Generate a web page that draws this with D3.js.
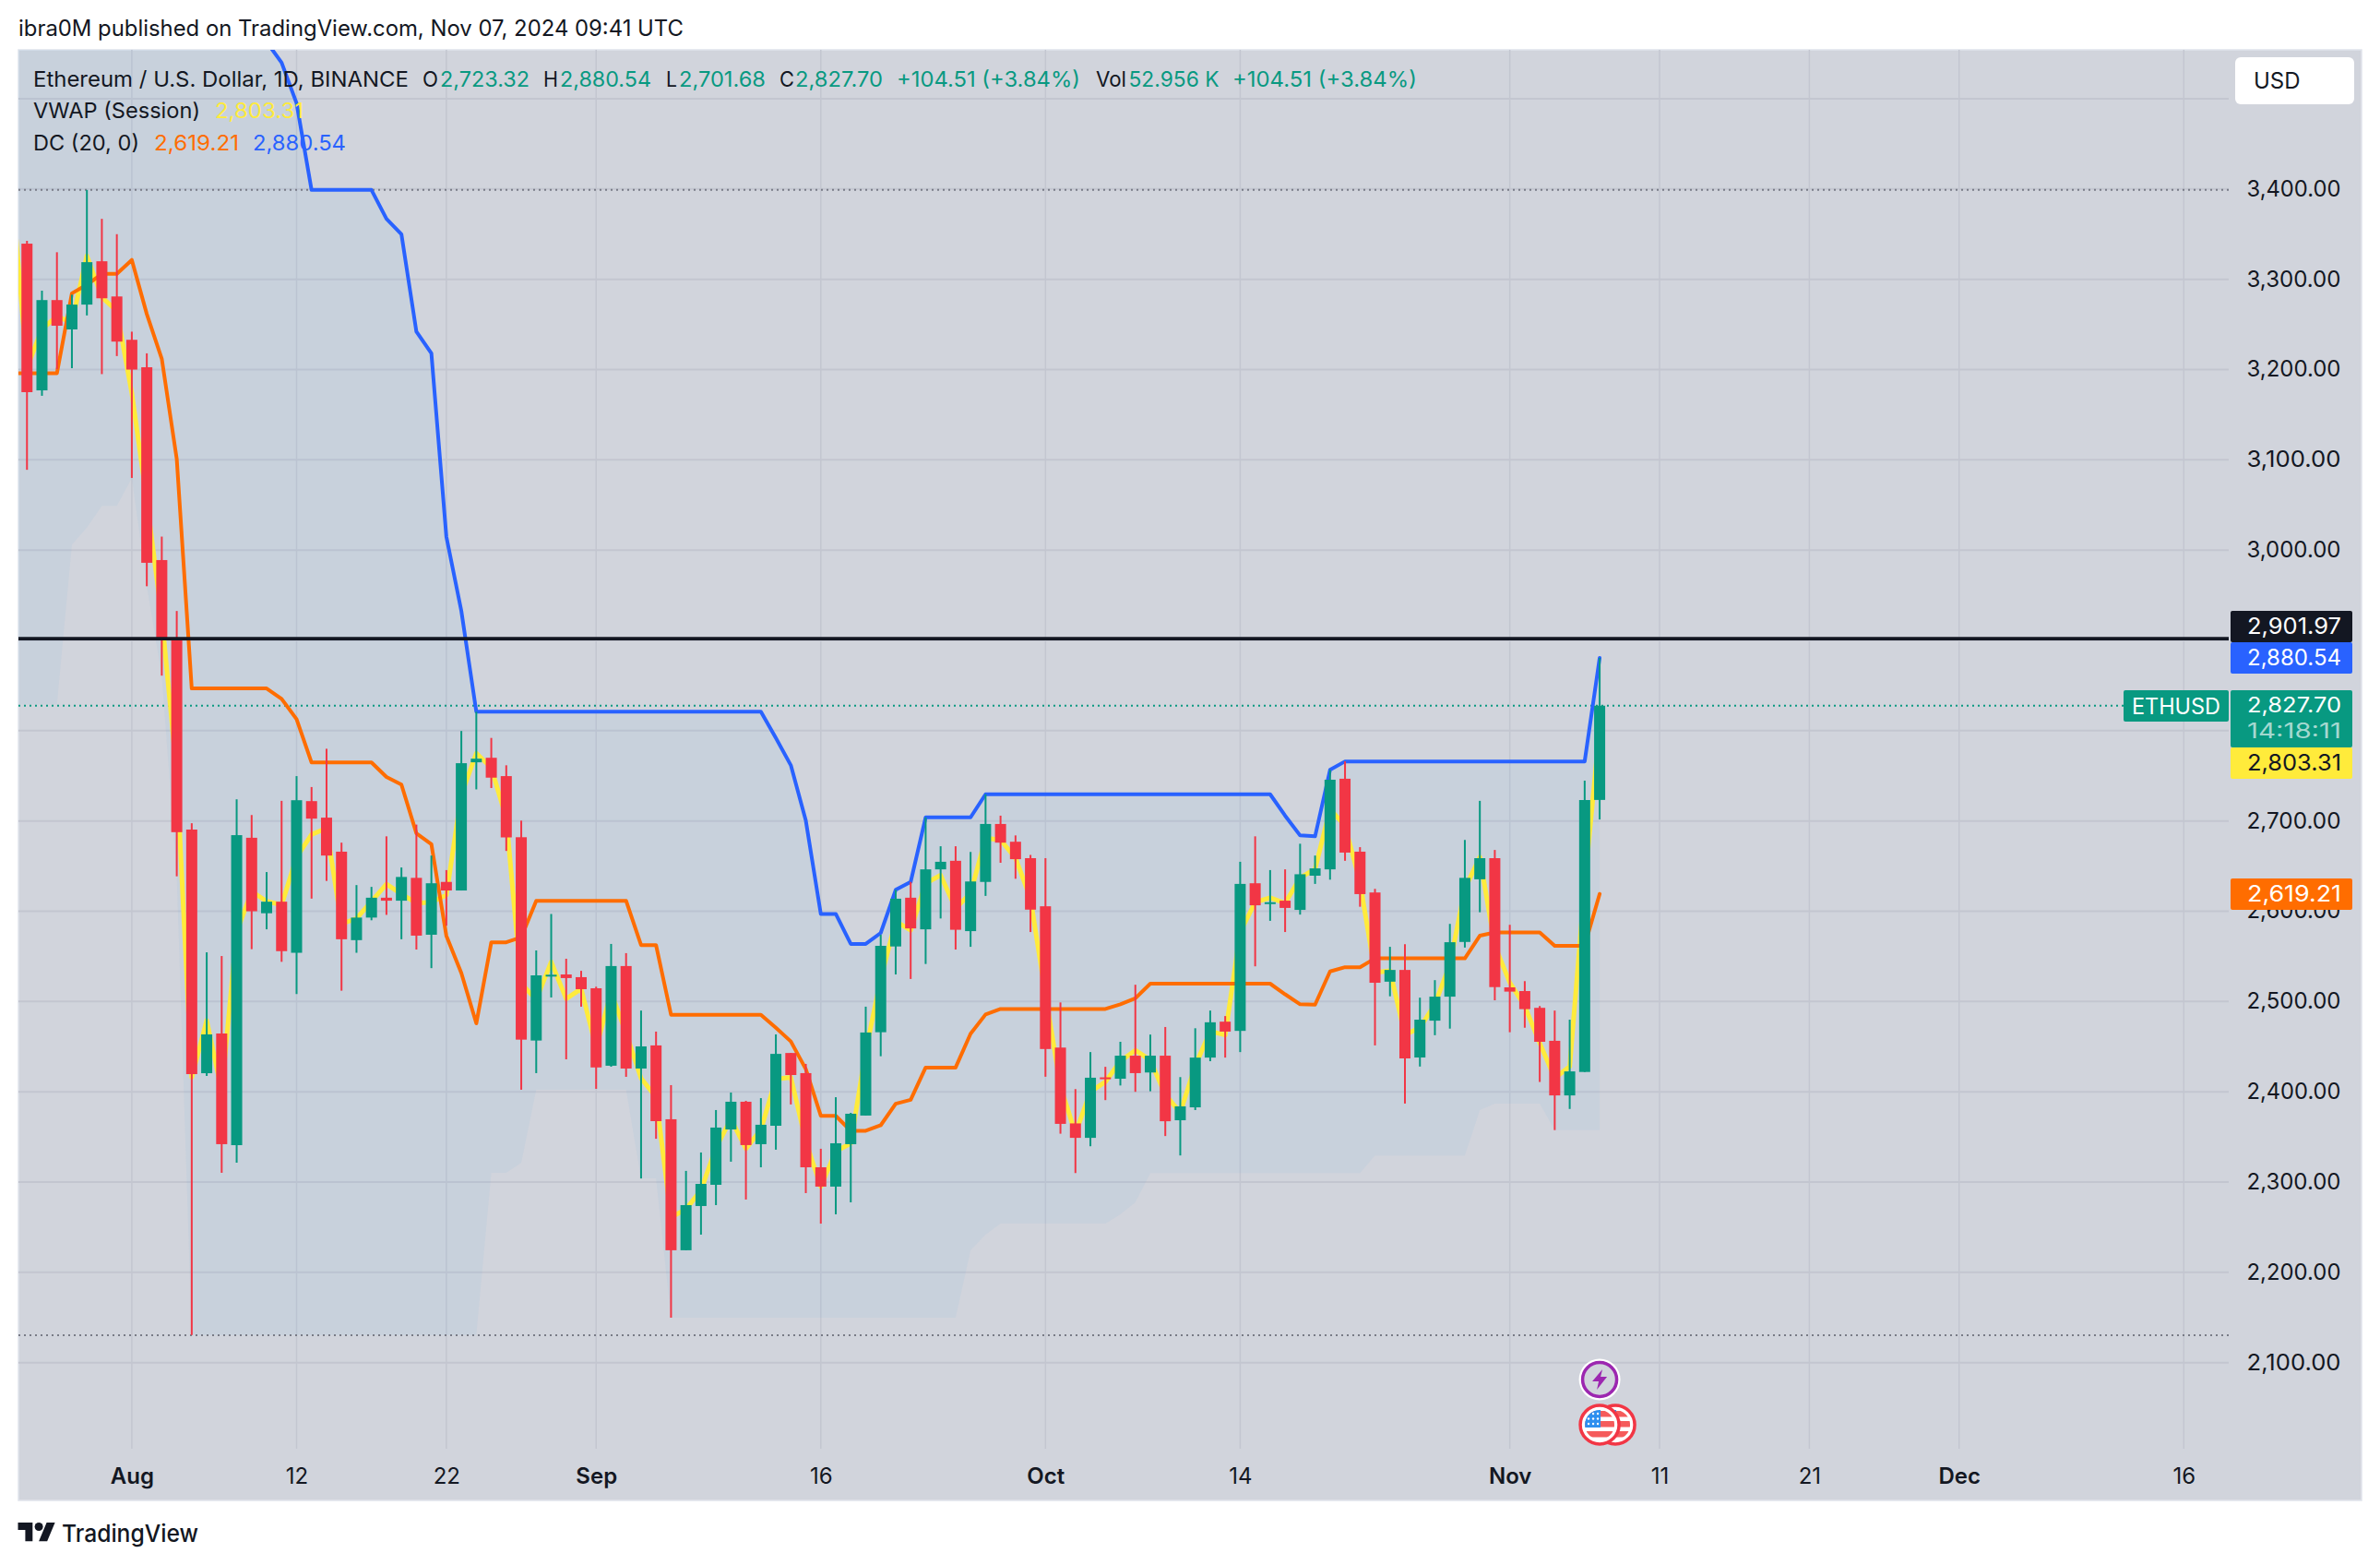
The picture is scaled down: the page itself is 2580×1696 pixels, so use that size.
<!DOCTYPE html>
<html>
<head>
<meta charset="utf-8">
<script src="https://cdn.jsdelivr.net/npm/d3@7"></script>
<style>
  html, body { margin: 0; padding: 0; background: #fff; }
  svg { display: block; }
  text { font-family: Inter, "Noto Sans", sans-serif; }
</style>
</head>
<body>
<svg id="chart" width="2580" height="1696"></svg>
<script>
// daily candles, first one is 25 Jul 2024, last one 7 Nov 2024
const opens = [
  3339.5, 3177, 3277, 3244.5, 3272, 3320, 3281, 3233, 3202.6, 2989,
  2902, 2690.5, 2420.6, 2464.6, 2340.9, 2681.4, 2597.8, 2610.6, 2554, 2722,
  2703.7, 2666, 2568, 2593, 2615, 2611.7, 2637, 2574, 2632.5, 2623,
  2765, 2770, 2749.7, 2682, 2456.8, 2528.4, 2530, 2527, 2514.7, 2428.9,
  2539.3, 2425.8, 2451.4, 2369.6, 2224.5, 2273.5, 2297, 2358.3, 2389, 2342,
  2362.4, 2443, 2420.7, 2316.4, 2295, 2342, 2373.7, 2466, 2561, 2615,
  2580, 2646.4, 2655.9, 2578, 2632.5, 2696.7, 2677, 2658.8, 2605.5, 2449,
  2365, 2349, 2416, 2414.5, 2440, 2421.4, 2440, 2368.5, 2382.8, 2437.9,
  2477.7, 2467.5, 2631, 2608, 2611.7, 2601.5, 2639.4, 2646.4, 2746.8, 2666,
  2620.8, 2522, 2535, 2438, 2478.8, 2505.4, 2566, 2635.4, 2658.8, 2515.7,
  2511.6, 2493, 2456.5, 2396, 2422, 2723.32,
];
const highs = [
  3342.6, 3287.4, 3330, 3283, 3399, 3367, 3350, 3242, 3218, 3015,
  2932.6, 2697.5, 2554.5, 2550.4, 2724, 2706.6, 2643.4, 2722.3, 2749.7, 2737.6,
  2780, 2676, 2629, 2627, 2683, 2648.5, 2696, 2661.7, 2645.6, 2799.7,
  2821, 2792, 2761.7, 2700.4, 2556.6, 2597, 2547.4, 2534, 2516.4, 2563.8,
  2553.6, 2490, 2466.7, 2407.4, 2312.4, 2332.8, 2379.8, 2399.2, 2390, 2393,
  2463.6, 2443, 2430.9, 2336.9, 2394, 2376.7, 2494.3, 2574, 2623.7, 2632.5,
  2704, 2672, 2672, 2665.7, 2729.6, 2705.9, 2684, 2662.4, 2658.8, 2499,
  2403, 2444, 2427.7, 2455.4, 2518.6, 2463.4, 2471.8, 2416.3, 2470.4, 2490,
  2483.9, 2654.8, 2683, 2645.6, 2646.4, 2674.8, 2661.7, 2756.6, 2766, 2671,
  2624.8, 2560.6, 2563.5, 2504.3, 2523.7, 2586, 2679, 2722.3, 2667.9, 2585,
  2522.6, 2495, 2490, 2479.9, 2744.7, 2880.54,
];
const lows = [
  3089, 3171, 3200.5, 3201.6, 3260, 3195, 3215, 3080, 2960, 2861,
  2638.7, 2130.6, 2417.6, 2310.3, 2321.5, 2558, 2580, 2544, 2508.3, 2614,
  2633.6, 2512, 2554, 2590, 2596, 2569, 2557.6, 2537, 2584, 2623,
  2735, 2736.5, 2666.8, 2402.3, 2420.7, 2504.5, 2436, 2494.3, 2403.3, 2427.8,
  2416.6, 2304, 2348, 2149.8, 2224.5, 2241.8, 2274.5, 2322.6, 2280.7, 2316.4,
  2335.9, 2386, 2287.8, 2254, 2264.3, 2277.6, 2373.7, 2439.4, 2530, 2525,
  2541.6, 2592, 2557.6, 2560.6, 2617, 2653.7, 2636, 2577, 2416.7, 2353.6,
  2310, 2339.7, 2390.8, 2407, 2400, 2400.6, 2351, 2329.5, 2379.8, 2433.9,
  2437.9, 2444, 2539, 2589.4, 2577, 2596.3, 2630.3, 2635, 2655.9, 2605,
  2451.4, 2505.8, 2387, 2428, 2462.7, 2470, 2559.8, 2598.9, 2501.4, 2466,
  2471, 2410.9, 2357.6, 2381, 2422, 2701.68,
];
const closes = [
  3175, 3277, 3248.6, 3272, 3319, 3279, 3231, 3200, 2986, 2903,
  2687.6, 2419.6, 2463.6, 2342, 2684.3, 2600, 2610.6, 2555.8, 2723, 2702.6,
  2661.7, 2569, 2593, 2615, 2611.7, 2638, 2573, 2631, 2623, 2764,
  2769, 2748, 2681.8, 2457.8, 2529, 2529.7, 2526, 2513.7, 2427, 2539.3,
  2425.8, 2450.3, 2367.5, 2224.5, 2274.5, 2298, 2360.4, 2389, 2341, 2363.5,
  2442, 2418.6, 2316.4, 2295, 2343, 2375.7, 2465.7, 2561.7, 2613.9, 2581,
  2646.4, 2654.8, 2579.5, 2633, 2696.7, 2676, 2657.7, 2601.8, 2447.4, 2364.5,
  2349, 2415.6, 2414.9, 2440, 2420.7, 2440, 2367.4, 2383.9, 2437.9, 2477,
  2466.7, 2630.3, 2606.6, 2610, 2603.7, 2641, 2647.5, 2745.7, 2665, 2619,
  2520.8, 2535, 2437, 2479.9, 2505.4, 2565.7, 2637, 2658.8, 2516, 2511,
  2491.6, 2455.4, 2396, 2422.6, 2723.2, 2827.7,
];

// indicators start one day earlier (24 Jul), that bar sits left of the pane edge
const vwap = [
  3400, 3202, 3245, 3259, 3252, 3326, 3280, 3265, 3174, 3055, 2926,
  2753, 2416, 2479, 2401, 2577, 2622, 2611, 2607, 2660, 2685,
  2692, 2586, 2592, 2611, 2630, 2619, 2609, 2610, 2618, 2729,
  2775, 2759, 2703, 2520, 2502, 2544, 2503, 2514, 2449, 2510,
  2465, 2415, 2394, 2261, 2270, 2291, 2338, 2370, 2337, 2358,
  2414, 2416, 2345, 2295, 2334, 2343, 2445, 2525, 2589, 2579,
  2631, 2640, 2603, 2620, 2681, 2679, 2659, 2614, 2508, 2406,
  2354, 2400, 2411, 2434, 2446, 2435, 2397, 2377, 2429, 2467,
  2463, 2577, 2610, 2615, 2609, 2637, 2647, 2713, 2695, 2632,
  2532, 2534, 2463, 2471, 2497, 2541, 2625, 2660, 2562, 2521,
  2495, 2454, 2415, 2428, 2630, 2803.31,
];
const dcUpper = [
  3563, 3563, 3563, 3563, 3563, 3563, 3563, 3563, 3563, 3563, 3563, 3563, 3563, 3563, 3563, 3563, 3563, 3563,
  3540, 3495, 3399, 3399, 3399, 3399, 3399, 3367, 3350, 3242, 3218, 3015, 2932.6,
  2821, 2821, 2821, 2821, 2821, 2821, 2821, 2821, 2821, 2821, 2821, 2821, 2821, 2821, 2821, 2821, 2821, 2821, 2821, 2821,
  2792, 2761.7, 2700.4, 2597, 2597, 2563.8, 2563.8, 2576, 2623.7, 2632.5, 2704, 2704, 2704, 2704,
  2729.6, 2729.6, 2729.6, 2729.6, 2729.6, 2729.6, 2729.6, 2729.6, 2729.6, 2729.6,
  2729.6, 2729.6, 2729.6, 2729.6, 2729.6, 2729.6, 2729.6, 2729.6, 2729.6, 2729.6,
  2705.9, 2684, 2683, 2756.6,
  2766, 2766, 2766, 2766, 2766, 2766, 2766, 2766, 2766, 2766, 2766, 2766, 2766, 2766, 2766, 2766, 2766,
  2880.54,
];
const dcLower = [
  2829, 2829, 2829, 2829, 3006, 3025, 3049, 3049, 3080, 2960, 2861, 2638.7,
  2130.6, 2130.6, 2130.6, 2130.6, 2130.6, 2130.6, 2130.6, 2130.6, 2130.6, 2130.6,
  2130.6, 2130.6, 2130.6, 2130.6, 2130.6, 2130.6, 2130.6, 2130.6, 2130.6, 2130.6,
  2310.3, 2310.3, 2321.5, 2402.3, 2402.3, 2402.3, 2402.3, 2402.3, 2402.3, 2402.3, 2304, 2304,
  2149.8, 2149.8, 2149.8, 2149.8, 2149.8, 2149.8, 2149.8, 2149.8, 2149.8, 2149.8,
  2149.8, 2149.8, 2149.8, 2149.8, 2149.8, 2149.8, 2149.8, 2149.8, 2149.8, 2149.8,
  2224.5, 2241.8, 2254, 2254, 2254, 2254, 2254, 2254, 2254, 2254, 2264.3, 2277.6,
  2310, 2310, 2310, 2310, 2310, 2310, 2310, 2310, 2310, 2310, 2310, 2310, 2310, 2310, 2310,
  2329.5, 2329.5, 2329.5, 2329.5, 2329.5, 2329.5, 2329.5,
  2379.8, 2387, 2387, 2387, 2387, 2357.6, 2357.6, 2357.6, 2357.6,
];
const dcBasis = [
  3196, 3196, 3196, 3196, 3284.5, 3294, 3306, 3306, 3321.5, 3261.5, 3212, 3100.9,
  2846.8, 2846.8, 2846.8, 2846.8, 2846.8, 2846.8, 2835.3, 2812.8,
  2764.8, 2764.8, 2764.8, 2764.8, 2764.8, 2748.8, 2740.3, 2686.3, 2674.3, 2572.8, 2531.6, 2475.8,
  2565.6, 2565.6, 2571.2, 2611.6, 2611.6, 2611.6, 2611.6, 2611.6, 2611.6, 2611.6, 2562.5, 2562.5,
  2485.4, 2485.4, 2485.4, 2485.4, 2485.4, 2485.4, 2485.4, 2470.9, 2455.8, 2425.1,
  2373.4, 2373.4, 2356.8, 2356.8, 2362.9, 2386.8, 2391.2, 2426.9, 2426.9, 2426.9, 2464.3, 2485.7,
  2491.8, 2491.8, 2491.8, 2491.8, 2491.8, 2491.8, 2491.8, 2491.8, 2497, 2503.6,
  2519.8, 2519.8, 2519.8, 2519.8, 2519.8, 2519.8, 2519.8, 2519.8, 2519.8,
  2508, 2497, 2496.5, 2533.3, 2538, 2538,
  2547.8, 2547.8, 2547.8, 2547.8, 2547.8, 2547.8, 2547.8,
  2572.9, 2576.5, 2576.5, 2576.5, 2576.5, 2561.8, 2561.8, 2561.8, 2619.21,
];

const gridPrices = [3500, 3400, 3300, 3200, 3100, 3000, 2900, 2800, 2700, 2600, 2500, 2400, 2300, 2200, 2100];
// 3500, 2900 and 2800 are covered by the button and the price tags in the reference
const priceLabels = [3400, 3300, 3200, 3100, 3000, 2700, 2600, 2500, 2400, 2300, 2200, 2100];
const timeTicks = ["2024-08-01", "2024-08-12", "2024-08-22", "2024-09-01", "2024-09-16", "2024-10-01",
  "2024-10-14", "2024-11-01", "2024-11-11", "2024-11-21", "2024-12-01", "2024-12-16"].map((d) => new Date(d));

const lastPrice = 2827.7;
const drawnLevel = 2901.97;
const highLevel = 3399;
const lowLevel = 2130.3;

const GREEN = "#089981";
const RED = "#f23645";
const YELLOW = "#ffeb3b";
const ORANGE = "#ff6d00";
const BLUE = "#2962ff";
const INK = "#131722";
const PANE = "#d1d4dc";

const PANE_L = 20;
const PANE_T = 54;
const PANE_R = 2560;
const PANE_B = 1626;
const PLOT_R = 2416;
const PLOT_B = 1570;

const svg = d3.select("#chart");

// same anchors as the picture: 1 Aug / 1 Dec on x, 2700 / 2100 on y
const x = d3.scaleUtc()
  .domain([new Date("2024-08-01"), new Date("2024-12-01")])
  .range([142.9, 2123.75]);
const y = d3.scaleLinear().domain([2700, 2100]).range([889.7, 1476.7]);

const candleDay = (i) => new Date(Date.UTC(2024, 6, 25 + i));
const indicatorDay = (i) => new Date(Date.UTC(2024, 6, 24 + i));

svg.append("rect").attr("width", 2580).attr("height", 1696).attr("fill", "#fff");
svg.append("rect")
  .attr("x", PANE_L).attr("y", PANE_T)
  .attr("width", PANE_R - PANE_L).attr("height", PANE_B - PANE_T)
  .attr("fill", PANE).attr("stroke", "#e0e3eb").attr("stroke-width", 1.5);

svg.append("clipPath").attr("id", "plot-clip").append("rect")
  .attr("x", PANE_L).attr("y", PANE_T)
  .attr("width", PLOT_R - PANE_L).attr("height", PLOT_B - PANE_T);

const plot = svg.append("g").attr("clip-path", "url(#plot-clip)");

// grid
plot.append("g").selectAll("line").data(timeTicks).join("line")
  .attr("x1", (d) => x(d)).attr("x2", (d) => x(d))
  .attr("y1", PANE_T).attr("y2", PLOT_B)
  .attr("stroke", "#c3c6d0").attr("stroke-width", 1.5);
plot.append("g").selectAll("line").data(gridPrices).join("line")
  .attr("x1", PANE_L).attr("x2", PLOT_R)
  .attr("y1", (d) => y(d)).attr("y2", (d) => y(d))
  .attr("stroke", "#c3c6d0").attr("stroke-width", 2);

// donchian fill, lower line itself is hidden in the reference
const band = d3.area()
  .x((d, i) => x(indicatorDay(i)))
  .y0((d, i) => y(dcLower[i]))
  .y1((d) => y(d));
plot.append("path").datum(dcUpper).attr("d", band)
  .attr("fill", "#2196f3").attr("fill-opacity", 0.05);

// dotted levels
const dotted = (price, right, color) => {
  plot.append("line")
    .attr("x1", PANE_L).attr("x2", right)
    .attr("y1", y(price)).attr("y2", y(price))
    .attr("stroke", color).attr("stroke-width", 2)
    .attr("stroke-dasharray", "2 4");
};
dotted(highLevel, PLOT_R, "#787b86");
dotted(lowLevel, PLOT_R, "#787b86");
dotted(lastPrice, 2302, GREEN);

const indicatorLine = d3.line()
  .x((d, i) => x(indicatorDay(i)))
  .y((d) => y(d));

const drawLine = (values, color, width) => {
  plot.append("path").datum(values)
    .attr("d", indicatorLine)
    .attr("fill", "none")
    .attr("stroke", color)
    .attr("stroke-width", width)
    .attr("stroke-linejoin", "round")
    .attr("stroke-linecap", "round");
};
drawLine(vwap, YELLOW, 5);
drawLine(dcBasis, ORANGE, 4);
drawLine(dcUpper, BLUE, 4);

// candles
const candles = plot.append("g").selectAll("g").data(opens).join("g")
  .attr("fill", (d, i) => (closes[i] >= d ? GREEN : RED));
candles.append("rect")
  .attr("x", (d, i) => x(candleDay(i)) - 1)
  .attr("width", 2)
  .attr("y", (d, i) => y(highs[i]))
  .attr("height", (d, i) => y(lows[i]) - y(highs[i]));
candles.append("rect")
  .attr("x", (d, i) => x(candleDay(i)) - 6)
  .attr("width", 12)
  .attr("y", (d, i) => y(Math.max(d, closes[i])))
  .attr("height", (d, i) => Math.max(2, Math.abs(y(d) - y(closes[i]))));

// horizontal line the author drew
plot.append("line")
  .attr("x1", PANE_L).attr("x2", PLOT_R)
  .attr("y1", y(drawnLevel)).attr("y2", y(drawnLevel))
  .attr("stroke", INK).attr("stroke-width", 3.8);

// event icons
const eventX = x(new Date("2024-11-07"));
const eventX2 = eventX + 17;
const flag = (cx, cy, id) => {
  const g = svg.append("g");
  g.append("circle").attr("cx", cx).attr("cy", cy).attr("r", 21).attr("fill", "#fff")
    .attr("stroke", RED).attr("stroke-width", 3.5);
  g.append("clipPath").attr("id", id).append("circle").attr("cx", cx).attr("cy", cy).attr("r", 16);
  const inner = g.append("g").attr("clip-path", `url(#${id})`);
  inner.append("rect").attr("x", cx - 16).attr("y", cy - 16).attr("width", 32).attr("height", 32).attr("fill", "#fff");
  d3.range(3).forEach((k) => {
    inner.append("rect").attr("x", cx - 16).attr("y", cy - 15 + k * 11).attr("width", 32).attr("height", 6.5)
      .attr("fill", "#f55b5b");
  });
  inner.append("rect").attr("x", cx - 16).attr("y", cy - 16).attr("width", 17).attr("height", 19).attr("fill", "#2e8fef");
  d3.range(3).forEach((r) => d3.range(3).forEach((c) => {
    inner.append("circle").attr("cx", cx - 12 + c * 5).attr("cy", cy - 12 + r * 5.5).attr("r", 1.2).attr("fill", "#fff");
  }));
};
const bolt = svg.append("g").attr("transform", `translate(${eventX},1495)`);
bolt.append("circle").attr("r", 22.5).attr("fill", "#fff");
bolt.append("circle").attr("r", 18.5).attr("fill", PANE).attr("stroke", "#9c27b0").attr("stroke-width", 3.5);
bolt.append("path").attr("d", "M3,-11 L-8,2 L-1,2 L-3,11 L8,-3 L1,-3 Z").attr("fill", "#9c27b0");
flag(eventX2, 1544, "flag-b");
flag(eventX, 1544, "flag-a");

// axes
const priceAxis = d3.axisRight(y)
  .tickValues(priceLabels)
  .tickFormat(d3.format(",.2f"))
  .tickSize(0)
  .tickPadding(0);
const priceG = svg.append("g").attr("transform", "translate(2435.5,-1)").call(priceAxis);
priceG.select(".domain").remove();
priceG.selectAll("text")
  .attr("font-size", 24).attr("fill", INK).attr("font-family", "Inter")
  .attr("dy", "0.35em")
  .attr("textLength", 102).attr("lengthAdjust", "spacingAndGlyphs");

const timeAxis = d3.axisBottom(x)
  .tickValues(timeTicks)
  .tickFormat((d) => (d.getUTCDate() === 1 ? d3.utcFormat("%b")(d) : d3.utcFormat("%-d")(d)))
  .tickSize(0)
  .tickPadding(0);
const timeG = svg.append("g").attr("transform", "translate(0,1591)").call(timeAxis);
timeG.select(".domain").remove();
timeG.selectAll("text")
  .attr("font-size", 24).attr("fill", INK).attr("font-family", "Inter")
  .attr("font-weight", (d) => (d.getUTCDate() === 1 ? 600 : 400));

// price tags on the right
const tag = (tx, ty, w, h, color) => {
  svg.append("rect").attr("x", tx).attr("y", ty).attr("width", w).attr("height", h).attr("rx", 2).attr("fill", color);
};
const label = (str, lx, baseline, color, size, width, opacity) => {
  const t = svg.append("text").attr("x", lx).attr("y", baseline).attr("fill", color)
    .attr("font-size", size).text(str);
  if (width) t.attr("textLength", width).attr("lengthAdjust", "spacingAndGlyphs");
  if (opacity) t.attr("fill-opacity", opacity);
  return t;
};

tag(2418, 662, 132, 34, INK);
label("2,901.97", 2436, 687, "#fff", 24, 102);
tag(2418, 696, 132, 34, BLUE);
label("2,880.54", 2436, 720.5, "#fff", 24, 102);
tag(2302, 748, 114, 34, GREEN);
label("ETHUSD", 2311, 773.5, "#fff", 24, 96);
tag(2418, 748, 132, 62, GREEN);
label("2,827.70", 2436, 772, "#fff", 23, 102);
label("14:18:11", 2436, 800, "#fff", 23, 102, 0.65);
tag(2418, 810, 132, 34, YELLOW);
label("2,803.31", 2436, 835, "#131722", 24, 102);
tag(2418, 952, 132, 34, ORANGE);
label("2,619.21", 2436, 976.5, "#fff", 24, 102);

// currency button
svg.append("rect").attr("x", 2423).attr("y", 62).attr("width", 129).attr("height", 51).attr("rx", 6).attr("fill", "#fff");
label("USD", 2443, 96, INK, 24);

// header and legend
label("ibra0M published on TradingView.com, Nov 07, 2024 09:41 UTC", 20, 39, INK, 24, 721);

label("Ethereum / U.S. Dollar, 1D, BINANCE", 36, 94, INK, 23, 407);
label("O", 458, 94, INK, 23, 17);
label("2,723.32", 477, 94, GREEN, 23, 97);
label("H", 589, 94, INK, 23, 16);
label("2,880.54", 607, 94, GREEN, 23, 99);
label("L", 722, 94, INK, 23, 12);
label("2,701.68", 736, 94, GREEN, 23, 94);
label("C", 845, 94, INK, 23, 16);
label("2,827.70", 862, 94, GREEN, 23, 95);
label("+104.51 (+3.84%)", 972, 94, GREEN, 23, 199);
label("Vol", 1188, 94, INK, 23, 33);
label("52.956 K", 1223.5, 94, GREEN, 23, 98);
label("+104.51 (+3.84%)", 1336, 94, GREEN, 23, 200);

label("VWAP (Session)", 36, 128, INK, 23, 181);
label("2,803.31", 233, 128, YELLOW, 23, 96);
label("DC (20, 0)", 36, 162.5, INK, 23, 115);
label("2,619.21", 167, 162.5, ORANGE, 23, 92);
label("2,880.54", 274, 162.5, BLUE, 23, 101);

// footer logo
const logo = svg.append("g").attr("transform", "translate(19.5,1645.5) scale(1.13)").attr("fill", INK);
logo.append("path").attr("d", "M14 22H7V11H0V4h14v18zM28 22h-8l7.5-18h8L28 22z");
logo.append("circle").attr("cx", 20).attr("cy", 8).attr("r", 4);
label("TradingView", 67, 1671, INK, 26, 148).attr("font-weight", 500);
</script>
</body>
</html>
